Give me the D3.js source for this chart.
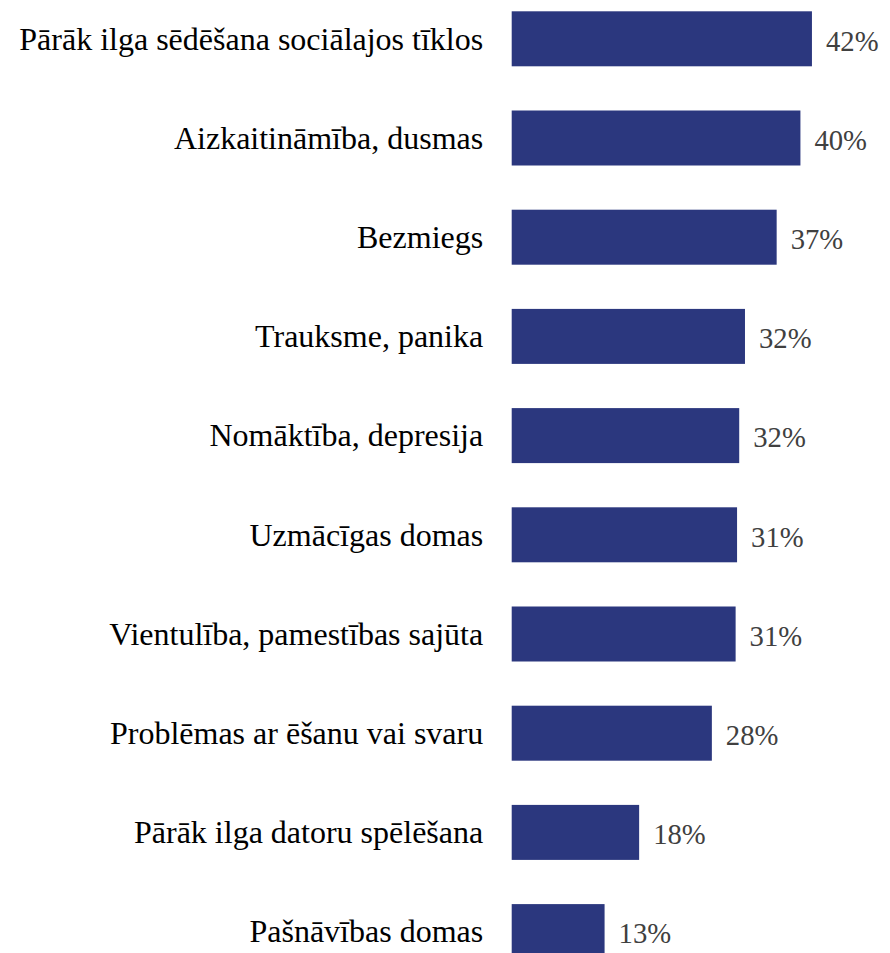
<!DOCTYPE html>
<html>
<head>
<meta charset="utf-8">
<script src="https://cdn.jsdelivr.net/npm/d3@7"></script>
<style>
  html, body { margin: 0; padding: 0; background: #ffffff; }
  svg { display: block; }
</style>
</head>
<body>
<script>
const categories = [
  "Pārāk ilga sēdēšana sociālajos tīklos",
  "Aizkaitināmība, dusmas",
  "Bezmiegs",
  "Trauksme, panika",
  "Nomāktība, depresija",
  "Uzmācīgas domas",
  "Vientulība, pamestības sajūta",
  "Problēmas ar ēšanu vai svaru",
  "Pārāk ilga datoru spēlēšana",
  "Pašnāvības domas"
];
const values = [41.7, 40.1, 36.8, 32.4, 31.6, 31.3, 31.1, 27.8, 17.7, 12.9];
const valueLabels = ["42%", "40%", "37%", "32%", "32%", "31%", "31%", "28%", "18%", "13%"];

const W = 890, H = 953;
const svg = d3.select("body").append("svg").attr("width", W).attr("height", H);

const x = d3.scaleLinear().domain([0, 50]).range([511.7, 511.7 + 50 * 7.2]);
const y = d3.scaleBand().domain(categories)
  .range([-10.8, -10.8 + 992])
  .paddingInner(0.4456)
  .paddingOuter(0.2228);

const data = categories.map((c, i) => ({ c, v: values[i], l: valueLabels[i] }));

svg.append("g").selectAll("rect").data(data).join("rect")
  .attr("x", x(0))
  .attr("y", d => y(d.c))
  .attr("width", d => x(d.v) - x(0))
  .attr("height", y.bandwidth())
  .attr("fill", "#2b377e");

svg.append("g").selectAll("text").data(data).join("text")
  .attr("x", x(0) - 28.5)
  .attr("y", d => y(d.c) + y.bandwidth() / 2)
  .attr("dy", "0.335em")
  .attr("text-anchor", "end")
  .attr("font-family", "'Liberation Serif', 'Times New Roman', serif")
  .attr("font-size", 32)
  .attr("fill", "#000000")
  .text(d => d.c);

svg.append("g").selectAll("text").data(data).join("text")
  .attr("x", d => x(d.v) + 14)
  .attr("y", d => y(d.c) + y.bandwidth() / 2)
  .attr("dy", "0.41em")
  .attr("text-anchor", "start")
  .attr("font-family", "'Liberation Serif', 'Times New Roman', serif")
  .attr("font-size", 28.7)
  .attr("fill", "#404040")
  .text(d => d.l);
</script>
</body>
</html>
